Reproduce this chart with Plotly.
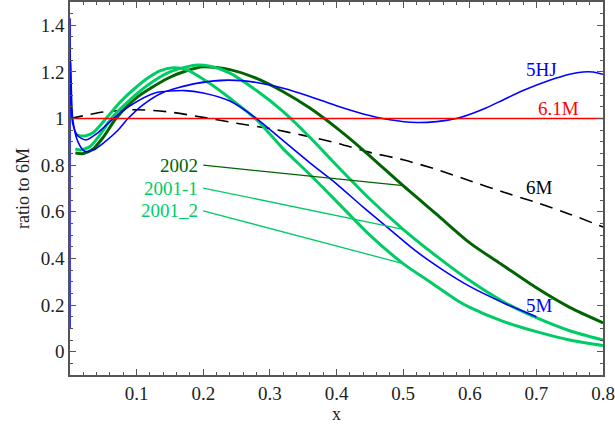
import numpy as np
import plotly.graph_objects as go

# ---------------- data ----------------
x_6M = [0, 0.05, 0.1, 0.15, 0.2, 0.25, 0.3, 0.35, 0.4, 0.45, 0.5, 0.55, 0.6, 0.65, 0.7, 0.75, 0.8]
y_6M = [1.0, 1.028, 1.038, 1.028, 1.005, 0.98, 0.957, 0.928, 0.895, 0.855, 0.823, 0.782, 0.733, 0.685, 0.64, 0.59, 0.535]

x_61M = [0, 0.8]
y_61M = [1.0, 1.0]

x_5HJ = [0, 0.0008, 0.004, 0.012, 0.022, 0.035, 0.05, 0.072, 0.087, 0.11, 0.138, 0.1875, 0.237, 0.28,
         0.32, 0.36, 0.4, 0.44, 0.48, 0.52, 0.55, 0.58, 0.62, 0.65, 0.68, 0.72, 0.75, 0.77, 0.785, 0.8]
y_5HJ = [0.1, 1.25, 1.0, 0.9, 0.86, 0.865, 0.895, 0.95, 1.0, 1.06, 1.11, 1.15, 1.165, 1.155,
         1.13, 1.095, 1.055, 1.02, 0.995, 0.983, 0.987, 1.0, 1.04, 1.08, 1.12, 1.164, 1.19, 1.2, 1.2, 1.19]

x_5M = [0, 0.0008, 0.004, 0.012, 0.024, 0.04, 0.05, 0.065, 0.09, 0.1275, 0.1725, 0.2, 0.24, 0.28, 0.32,
        0.36, 0.4, 0.44, 0.48, 0.52, 0.56, 0.6, 0.65, 0.7]
y_5M = [1.43, 1.15, 0.98, 0.925, 0.908, 0.935, 0.96, 1.0, 1.055, 1.11, 1.12, 1.11, 1.075, 1.0, 0.905,
        0.81, 0.72, 0.62, 0.525, 0.43, 0.35, 0.28, 0.21, 0.15]

x_2002 = [0.008, 0.02, 0.035, 0.05, 0.069, 0.1, 0.147, 0.175, 0.2, 0.24, 0.28, 0.32, 0.36, 0.4, 0.44,
          0.5, 0.55, 0.6, 0.65, 0.7, 0.75, 0.8]
y_2002 = [0.852, 0.85, 0.87, 0.92, 1.0, 1.09, 1.173, 1.205, 1.222, 1.21, 1.172, 1.115, 1.045, 0.96, 0.865,
          0.712, 0.59, 0.467, 0.37, 0.274, 0.19, 0.124]

x_2001_1 = [0.008, 0.016, 0.03, 0.045, 0.062, 0.09, 0.12, 0.15, 0.1875, 0.21, 0.24, 0.28, 0.32, 0.36,
            0.4, 0.45, 0.5, 0.55, 0.6, 0.65, 0.7, 0.75, 0.8]
y_2001_1 = [0.87, 0.865, 0.88, 0.93, 1.0, 1.08, 1.15, 1.2, 1.229, 1.225, 1.195, 1.12, 1.03, 0.92,
            0.8, 0.655, 0.525, 0.41, 0.305, 0.215, 0.146, 0.09, 0.05]

x_2001_2 = [0.008, 0.0225, 0.035, 0.054, 0.075, 0.0975, 0.12, 0.135, 0.155, 0.175, 0.21, 0.24, 0.28, 0.32,
            0.36, 0.4, 0.45, 0.5, 0.54, 0.58, 0.6, 0.65, 0.7, 0.75, 0.8]
y_2001_2 = [0.93, 0.925, 0.94, 1.0, 1.07, 1.13, 1.18, 1.205, 1.218, 1.21, 1.15, 1.087, 0.995, 0.87,
            0.76, 0.645, 0.5, 0.378, 0.3, 0.222, 0.19, 0.13, 0.086, 0.05, 0.026]

x_ticks = [0.1, 0.2, 0.3, 0.4, 0.5, 0.6, 0.7, 0.8]
y_ticks = [0, 0.2, 0.4, 0.6, 0.8, 1, 1.2, 1.4]

# ---------------- styles ----------------
BLUE = "#0000ff"
RED = "#ff0000"
DKGREEN = "#006400"
LTGREEN = "#00cc66"
FONT = "Liberation Serif"

fig = go.Figure()

def add(x, y, color, width, dash=None, shape="spline"):
    fig.add_trace(go.Scatter(x=x, y=y, mode="lines",
                             line=dict(color=color, width=width, dash=dash, shape=shape,
                                       smoothing=0.7 if shape == "spline" else None),
                             showlegend=False, hoverinfo="skip"))

add(x_6M, y_6M, "black", 1.6, dash="13px,8px")
add(x_2002, y_2002, DKGREEN, 3)
add(x_2001_1, y_2001_1, LTGREEN, 3)
add(x_2001_2, y_2001_2, LTGREEN, 3)
add(x_5HJ, y_5HJ, BLUE, 1.6)
add(x_5M, y_5M, BLUE, 1.6)
add(x_61M, y_61M, RED, 1.6, shape="linear")

# curve labels
def label(text, x, y, color, xanchor="center"):
    fig.add_annotation(x=x, y=y, text=text, showarrow=False, xanchor=xanchor, yanchor="middle",
                       font=dict(family=FONT, size=19, color=color))

label("5HJ", 0.708, 1.211, BLUE)
label("6.1M", 0.733, 1.045, RED)
label("6M", 0.705, 0.706, "black")
label("5M", 0.705, 0.2, BLUE)

# pointer labels for the fits
px = 0.5
pointers = [("2002", 0.80, DKGREEN, x_2002, y_2002),
            ("2001-1", 0.702, LTGREEN, x_2001_1, y_2001_1),
            ("2001_2", 0.604, LTGREEN, x_2001_2, y_2001_2)]
for text, ly, color, xs, ys in pointers:
    label(text, 0.195, ly, color, xanchor="right")
    fig.add_shape(type="line", x0=0.2, y0=ly, x1=px, y1=float(np.interp(px, xs, ys)),
                  line=dict(color=color, width=1.3), xref="x", yref="y")

axis_common = dict(showgrid=False, zeroline=False, showline=True, linecolor="#555555", linewidth=1.5,
                   mirror="ticks", ticks="inside", tickcolor="#555555", tickwidth=1, ticklen=6,
                   tickfont=dict(family=FONT, size=19, color="#222222"))

fig.update_xaxes(range=[0, 0.8], tickvals=x_ticks,
                 minor=dict(dtick=0.02, tick0=0, ticks="inside", ticklen=3, tickcolor="#555555"),
                 title=dict(text="x", font=dict(family=FONT, size=18, color="#222222"), standoff=2),
                 **axis_common)
fig.update_yaxes(range=[-0.1, 1.5], tickvals=y_ticks,
                 minor=dict(dtick=0.05, tick0=0, ticks="inside", ticklen=3, tickcolor="#555555"),
                 title=dict(text="ratio to 6M", font=dict(family=FONT, size=18, color="#222222"), standoff=6),
                 **axis_common)

fig.update_layout(width=615, height=424, margin=dict(l=70, r=12, t=2, b=49, autoexpand=False),
                  plot_bgcolor="white", paper_bgcolor="white")

fig.write_html("out.html")
